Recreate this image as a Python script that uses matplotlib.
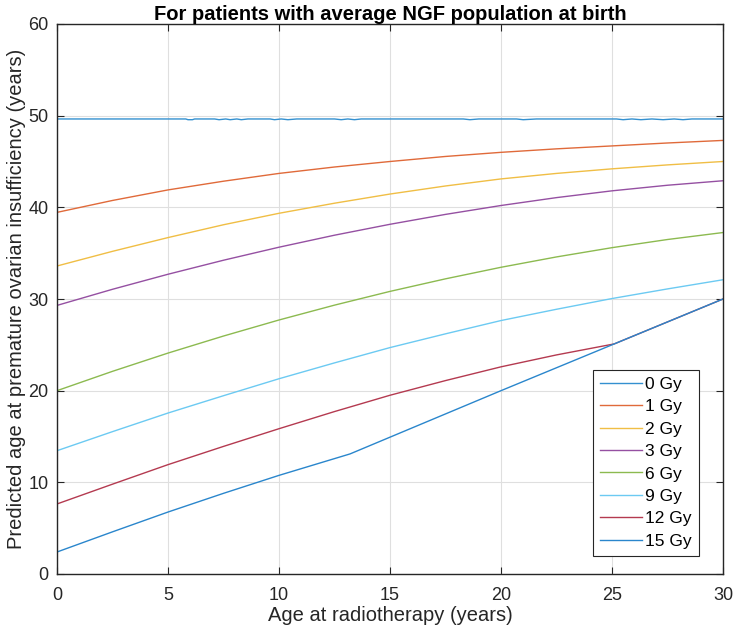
import matplotlib
matplotlib.use("Agg")
import matplotlib.pyplot as plt

plt.rcParams['font.family'] = ['Liberation Sans', 'DejaVu Sans']

# ---- data ----
x_grid = [0, 2.5, 5, 7.5, 10, 12.5, 15, 17.5, 20, 22.5, 25, 27.5, 30]

x_0gy = [0, 5.8, 5.9, 6.1, 6.2, 7.1, 7.3, 7.6, 7.8, 8.1, 8.3, 8.6, 9.6, 9.8, 10.1, 10.4, 10.8,
         12.5, 12.8, 13.1, 13.4, 13.7, 18.3, 18.6, 19.0, 20.7, 21.0, 21.6,
         25.2, 25.5, 25.9, 26.3, 26.8, 27.3, 27.8, 28.2, 28.6, 30]
y_0gy = [49.64, 49.64, 49.56, 49.56, 49.64, 49.64, 49.56, 49.64, 49.56, 49.64, 49.56, 49.64,
         49.64, 49.56, 49.64, 49.56, 49.64, 49.64, 49.56, 49.64, 49.56, 49.64,
         49.64, 49.56, 49.64, 49.64, 49.56, 49.64,
         49.64, 49.56, 49.64, 49.56, 49.64, 49.56, 49.64, 49.56, 49.64, 49.64]

y_1gy = [39.45, 40.75, 41.9, 42.85, 43.7, 44.4, 45.0, 45.55, 46.0, 46.38, 46.7, 47.02, 47.3]
y_2gy = [33.6, 35.2, 36.7, 38.1, 39.35, 40.45, 41.45, 42.33, 43.1, 43.7, 44.2, 44.63, 45.0]
y_3gy = [29.3, 31.06, 32.7, 34.23, 35.65, 36.96, 38.15, 39.23, 40.2, 41.06, 41.8, 42.41, 42.9]
y_6gy = [20.0, 22.11, 24.1, 25.96, 27.71, 29.33, 30.83, 32.2, 33.46, 34.59, 35.6, 36.49, 37.25]
y_9gy = [13.45, 15.53, 17.56, 19.45, 21.3, 23.03, 24.7, 26.2, 27.65, 28.88, 30.05, 31.1, 32.1]

x_12gy = [0, 2.5, 5, 7.5, 10, 12.5, 15, 17.5, 20, 22.5, 25.1, 30]
y_12gy = [7.64, 9.8, 11.93, 13.92, 15.85, 17.72, 19.5, 21.1, 22.6, 23.9, 25.1, 30.0]

x_15gy = [0, 2.5, 5, 7.5, 10, 13.2, 20, 25, 30]
y_15gy = [2.4, 4.6, 6.76, 8.8, 10.76, 13.1, 20.0, 25.0, 30.0]

labels = ['0 Gy', '1 Gy', '2 Gy', '3 Gy', '6 Gy', '9 Gy', '12 Gy', '15 Gy']
colors = ['#3390d0', '#e06a3a', '#f0be45', '#9550a2', '#8cba50', '#6ccaf2', '#b43a50', '#2a86cc']

xticks = [0, 5, 10, 15, 20, 25, 30]
yticks = [0, 10, 20, 30, 40, 50, 60]

title = 'For patients with average NGF population at birth'
xlabel = 'Age at radiotherapy (years)'
ylabel = 'Predicted age at premature ovarian insufficiency (years)'

# ---- figure ----
fig = plt.figure(figsize=(7.35, 6.37), dpi=100)
ax = fig.add_axes([57/735, 1 - 574/637, (723-57)/735, (574-24)/637])

series = [(x_0gy, y_0gy), (x_grid, y_1gy), (x_grid, y_2gy), (x_grid, y_3gy),
          (x_grid, y_6gy), (x_grid, y_9gy), (x_12gy, y_12gy), (x_15gy, y_15gy)]
for (xs, ys), lab, col in zip(series, labels, colors):
    ax.plot(xs, ys, color=col, lw=1.0, label=lab)

ax.set_xlim(0, 30)
ax.set_ylim(0, 60)
ax.set_xticks(xticks)
ax.set_yticks(yticks)
ax.grid(True, color='#dfdfdf', lw=0.8)
ax.set_axisbelow(True)

for s in ax.spines.values():
    s.set_color('#262626')
    s.set_linewidth(1.0)
ax.tick_params(direction='in', top=True, right=True, length=5, width=0.8,
               color='#262626', labelcolor='#262626', labelsize=13)
ax.tick_params(axis='x', pad=9)
ax.tick_params(axis='y', pad=6)

ax.set_title(title, fontsize=14.5, fontweight='bold', color='black', pad=3)
ax.set_xlabel(xlabel, fontsize=14.5, color='#262626', labelpad=2)
ax.set_ylabel(ylabel, fontsize=14.5, color='#262626', labelpad=2)

leg = ax.legend(loc='lower right', bbox_to_anchor=(0.964, 0.033), fontsize=12.5,
                frameon=True, fancybox=False, handlelength=2.4, handletextpad=0.2,
                labelspacing=0.42, borderpad=0.4, borderaxespad=0)
leg.get_frame().set_edgecolor('#262626')
leg.get_frame().set_linewidth(0.8)
leg.get_frame().set_alpha(1.0)

fig.savefig('out.png', dpi=100)
